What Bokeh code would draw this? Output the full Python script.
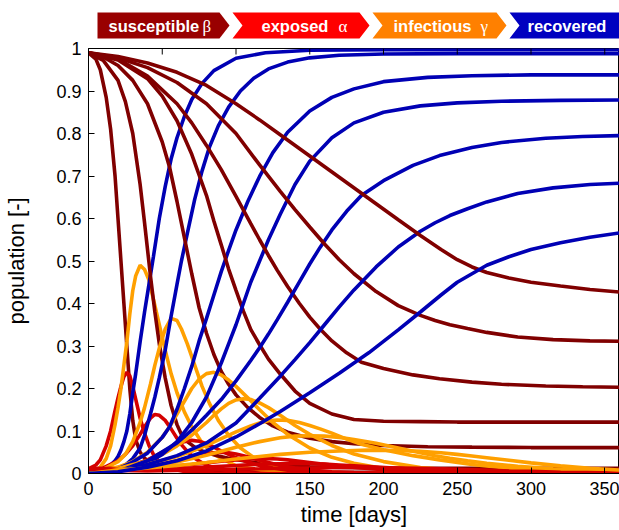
from bokeh.plotting import figure
from bokeh.layouts import column
from bokeh.models import Range1d, FixedTicker
from bokeh.embed import file_html
from bokeh.resources import INLINE
from bokeh.core.properties import value
import math

# ---------------- data ----------------
tA = [0,5,8,12,15,18,20,22,24,26,28,30,32,35,38,41,44,48,52,56,60,65,70,77,85,100,120,150,200,360]
SA = [0.99,0.975,0.95,0.885,0.81,0.7,0.6,0.5,0.4,0.3,0.2,0.125,0.08,0.05,0.036,0.028,0.022,0.017,0.014,0.011,0.009,0.008,0.007,0.006,0.005,0.004,0.004,0.003,0.003,0.003]
EA = [0.011,0.02,0.032,0.065,0.1,0.148,0.178,0.205,0.228,0.238,0.23,0.205,0.175,0.13,0.095,0.066,0.045,0.028,0.018,0.012,0.008,0.005,0.003,0.002,0.001,0,0,0,0,0]
IA = [0,0.007,0.015,0.035,0.065,0.115,0.155,0.2,0.255,0.31,0.375,0.43,0.465,0.49,0.48,0.455,0.41,0.35,0.29,0.235,0.19,0.145,0.11,0.072,0.045,0.018,0.006,0.001,0,0]
RA = [0,0.002,0.005,0.012,0.02,0.03,0.04,0.055,0.075,0.1,0.14,0.19,0.235,0.31,0.38,0.445,0.51,0.6,0.675,0.74,0.79,0.84,0.88,0.918,0.948,0.977,0.99,0.996,0.997,0.997]

tB = [0,10,20,25,30,35,38,42,45,48,52,56,60,63,67,72,77,82,88,95,103,112,122,135,150,170,200,250,360]
SB = [0.99,0.972,0.925,0.875,0.8,0.68,0.59,0.465,0.38,0.305,0.225,0.16,0.115,0.092,0.075,0.062,0.053,0.047,0.041,0.036,0.031,0.026,0.022,0.018,0.016,0.014,0.013,0.012,0.012]
EB = [0.011,0.013,0.03,0.045,0.065,0.092,0.11,0.13,0.139,0.137,0.125,0.105,0.083,0.068,0.052,0.036,0.025,0.017,0.011,0.006,0.003,0.001,0,0,0,0,0,0,0]
IB = [0,0.01,0.028,0.045,0.075,0.12,0.155,0.21,0.255,0.295,0.34,0.365,0.36,0.34,0.305,0.255,0.205,0.165,0.125,0.09,0.06,0.038,0.022,0.011,0.005,0.002,0,0,0]
RB = [0,0.002,0.01,0.02,0.035,0.06,0.09,0.14,0.18,0.225,0.29,0.37,0.445,0.5,0.565,0.645,0.712,0.768,0.818,0.862,0.9,0.93,0.952,0.968,0.978,0.984,0.987,0.988,0.988]

tC = [0,10,20,30,40,50,55,60,65,70,75,80,85,90,95,100,108,116,125,135,150,165,180,200,230,260,300,360]
SC = [0.99,0.98,0.96,0.925,0.87,0.78,0.72,0.64,0.555,0.47,0.39,0.33,0.28,0.24,0.21,0.185,0.155,0.132,0.112,0.097,0.083,0.075,0.07,0.066,0.063,0.062,0.061,0.061]
EC = [0.011,0.011,0.014,0.02,0.032,0.05,0.06,0.069,0.075,0.078,0.076,0.07,0.062,0.053,0.045,0.037,0.027,0.019,0.013,0.008,0.004,0.002,0.001,0,0,0,0,0]
IC = [0,0.008,0.015,0.028,0.05,0.085,0.11,0.14,0.17,0.2,0.222,0.235,0.238,0.232,0.22,0.205,0.178,0.15,0.12,0.092,0.06,0.038,0.024,0.012,0.005,0.002,0,0]
RC = [0,0.001,0.011,0.027,0.048,0.085,0.11,0.151,0.2,0.252,0.312,0.365,0.42,0.475,0.525,0.573,0.64,0.699,0.755,0.803,0.853,0.885,0.905,0.922,0.932,0.936,0.938,0.938]

tD = [0,20,40,50,60,70,80,85,90,95,100,105,110,116,122,130,140,150,165,180,200,225,250,280,320,360]
SD = [0.99,0.973,0.929,0.888,0.83,0.751,0.654,0.594,0.538,0.481,0.431,0.382,0.339,0.303,0.269,0.234,0.194,0.165,0.14,0.127,0.123,0.122,0.121,0.121,0.121,0.121]
ED = [0.011,0.01,0.016,0.022,0.03,0.039,0.046,0.049,0.05,0.049,0.046,0.042,0.037,0.031,0.026,0.019,0.013,0.008,0.004,0.002,0.001,0,0,0,0,0]
ID = [0,0.012,0.03,0.045,0.065,0.09,0.12,0.137,0.152,0.165,0.173,0.176,0.174,0.166,0.155,0.137,0.113,0.092,0.066,0.046,0.028,0.014,0.007,0.003,0.001,0]
RD = [0,0.005,0.025,0.045,0.075,0.12,0.18,0.22,0.26,0.305,0.35,0.4,0.45,0.5,0.55,0.61,0.68,0.735,0.79,0.825,0.85,0.865,0.872,0.876,0.878,0.879]

tE = [0,20,40,60,70,80,90,100,110,116,122,128,135,143,150,157,165,175,185,200,220,238,260,280,310,335,360]
SE = [0.99,0.975,0.935,0.87,0.825,0.772,0.715,0.652,0.588,0.55,0.513,0.478,0.44,0.4,0.368,0.34,0.312,0.284,0.262,0.247,0.232,0.223,0.215,0.21,0.206,0.204,0.203]
EE = [0.011,0.01,0.013,0.018,0.021,0.025,0.029,0.032,0.034,0.035,0.035,0.034,0.032,0.029,0.026,0.023,0.02,0.016,0.013,0.009,0.005,0.003,0.002,0.001,0,0,0]
IE = [0,0.01,0.022,0.04,0.052,0.066,0.082,0.098,0.112,0.119,0.124,0.126,0.125,0.12,0.113,0.105,0.095,0.081,0.069,0.056,0.042,0.032,0.021,0.014,0.008,0.005,0.003]
RE = [0,0.005,0.03,0.072,0.102,0.137,0.174,0.218,0.266,0.296,0.328,0.362,0.403,0.451,0.493,0.532,0.573,0.617,0.654,0.689,0.725,0.748,0.767,0.779,0.789,0.793,0.795]

tF = [0,20,40,60,80,100,116,130,140,150,160,170,180,195,210,225,235,245,257,270,291,315,340,360]
SF = [0.99,0.978,0.955,0.92,0.87,0.8,0.726,0.664,0.621,0.58,0.54,0.503,0.47,0.428,0.395,0.372,0.36,0.35,0.341,0.332,0.321,0.315,0.312,0.311]
EF = [0.011,0.008,0.008,0.011,0.015,0.019,0.022,0.023,0.023,0.023,0.022,0.02,0.018,0.015,0.012,0.009,0.008,0.007,0.006,0.005,0.003,0.002,0.001,0.001]
IF = [0,0.009,0.016,0.027,0.043,0.062,0.075,0.084,0.088,0.089,0.088,0.085,0.08,0.071,0.06,0.049,0.042,0.036,0.03,0.024,0.017,0.011,0.007,0.005]
RF = [0,0.005,0.021,0.042,0.072,0.119,0.177,0.229,0.268,0.308,0.35,0.392,0.432,0.486,0.533,0.57,0.59,0.607,0.623,0.639,0.659,0.672,0.68,0.683]

tG = [0,20,40,60,80,100,116,130,150,170,190,210,225,239,250,260,270,285,300,320,340,360]
SG = [0.99,0.981,0.966,0.944,0.913,0.87,0.832,0.797,0.747,0.697,0.647,0.597,0.56,0.527,0.503,0.486,0.473,0.46,0.45,0.441,0.433,0.427]
EG = [0.011,0.007,0.006,0.007,0.008,0.01,0.011,0.012,0.013,0.014,0.014,0.013,0.012,0.011,0.01,0.009,0.008,0.006,0.005,0.003,0.002,0.001]
IG = [0,0.008,0.013,0.019,0.026,0.034,0.04,0.045,0.05,0.053,0.055,0.054,0.052,0.049,0.045,0.041,0.037,0.031,0.025,0.018,0.012,0.008]
RG = [0,0.004,0.015,0.03,0.053,0.086,0.117,0.146,0.19,0.236,0.284,0.338,0.38,0.42,0.45,0.47,0.49,0.51,0.527,0.543,0.556,0.566]

x_ticks = [0, 50, 100, 150, 200, 250, 300, 350]
y_ticks = [0, 0.1, 0.2, 0.3, 0.4, 0.5, 0.6, 0.7, 0.8, 0.9, 1]
y_tick_labels = ["0", "0.1", "0.2", "0.3", "0.4", "0.5", "0.6", "0.7", "0.8", "0.9", "1"]
legend_names = ["susceptible", "exposed", "infectious", "recovered"]
legend_greek = ["\u03b2", "\u03b1", "\u03b3"]

curves = [
    (tA, SA, EA, IA, RA),
    (tB, SB, EB, IB, RB),
    (tC, SC, EC, IC, RC),
    (tD, SD, ED, ID, RD),
    (tE, SE, EE, IE, RE),
    (tF, SF, EF, IF, RF),
    (tG, SG, EG, IG, RG),
]

# ---------------- styles ----------------
LINE_COLORS = ["#800000", "#d40000", "#ffa000", "#0000b4"]
BOX_COLORS = ["#990000", "#ff0000", "#ff8000", "#0000c0"]
FONT = "Liberation Sans"
W = 619
LH = 40
MH = 490
LEFT = 88

# ---------------- main plot ----------------
p = figure(width=W, height=MH, x_range=Range1d(0, 360), y_range=Range1d(0, 1),
           output_backend="svg", toolbar_location=None,
           min_border_left=LEFT, min_border_right=0, min_border_top=8, min_border_bottom=57)
p.grid.visible = False
p.outline_line_color = "black"
p.outline_line_width = 1
p.background_fill_color = "white"

for (t, S, E, I, R) in curves:
    for series, col in zip((S, E, I, R), LINE_COLORS):
        p.line(t, series, line_color=col, line_width=3.6)

p.xaxis.ticker = FixedTicker(ticks=x_ticks)
p.yaxis.ticker = FixedTicker(ticks=y_ticks)
p.yaxis.major_label_overrides = {v: s for v, s in zip(y_ticks, y_tick_labels)}
for ax in (p.xaxis, p.yaxis):
    ax.minor_tick_line_color = None
    ax.major_tick_in = 6
    ax.major_tick_out = 0
    ax.major_tick_line_color = "black"
    ax.axis_line_color = "black"
    ax.major_label_text_font = FONT
    ax.major_label_text_font_size = "18px"
    ax.major_label_text_color = "black"
    ax.axis_label_text_font = FONT
    ax.axis_label_text_font_size = "22px"
    ax.axis_label_text_font_style = "normal"
    ax.axis_label_text_color = "black"
p.xaxis.axis_label = "time [days]"
p.yaxis.axis_label = "population [-]"
p.xaxis.major_label_standoff = 8
p.xaxis.axis_label_standoff = 4
p.yaxis.major_label_standoff = 7
p.yaxis.axis_label_standoff = 24

# mirrored tick marks on the top border
p.ray(x=x_ticks, y=[1] * len(x_ticks), length=6, angle=-math.pi / 2,
      length_units="screen", line_color="black", line_width=1)

# ---------------- legend strip (chevrons) ----------------
# the column aligns this strip's frame with the main frame: x runs LEFT..W in page pixels
lf = figure(width=W, height=LH, x_range=Range1d(LEFT, W), y_range=Range1d(0, LH),
            output_backend="svg", toolbar_location=None, min_border=0,
            min_border_left=LEFT, min_border_right=0,
            x_axis_type=None, y_axis_type=None)
lf.grid.visible = False
lf.outline_line_color = None

def py(y):
    return LH - y

top, mid, bot = 12, 25, 38
lefts = [97, 232, 372, 509]
tips = [229, 369, 506, None]
notch = 10
xs_all, ys_all = [], []
for i in range(4):
    L = lefts[i]
    T = tips[i]
    if T is None:
        pts = [(L, top), (W + 5, top), (W + 5, bot), (L, bot)]
    else:
        pts = [(L, top), (T - notch, top), (T, mid), (T - notch, bot), (L, bot)]
    if i > 0:
        pts.append((L + notch, mid))
    xs_all.append([a for a, b in pts])
    ys_all.append([py(b) for a, b in pts])
lf.patches(xs_all, ys_all, fill_color=BOX_COLORS, line_color=None)

name_x = [108, 261, 393, 527]
greek_x = [202, 338, 480]
lf.text(x=name_x, y=[py(mid)] * 4, text=legend_names,
        text_color="white", text_font=value(FONT), text_font_size="16.5px",
        text_font_style="bold", text_align="left", text_baseline="middle")
lf.text(x=greek_x, y=[py(mid) - 1] * 3, text=legend_greek,
        text_color="white", text_font=value("Liberation Serif"), text_font_size="17px",
        text_align="left", text_baseline="middle")

layout = column(lf, p, spacing=0)
open("out.html", "w").write(file_html(layout, INLINE))
